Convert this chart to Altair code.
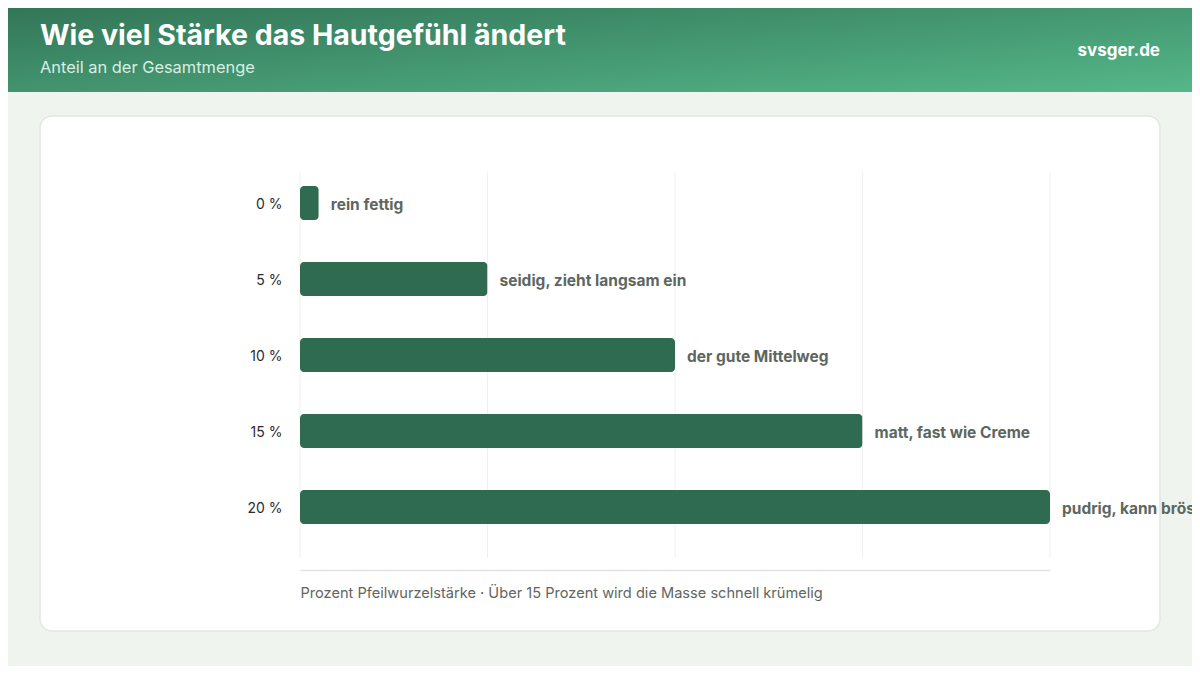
import altair as alt
import pandas as pd

# ---- data ----
cats = ["0 %", "5 %", "10 %", "15 %", "20 %"]
values = [0.5, 5, 10, 15, 20]
labels = [
    "rein fettig",
    "seidig, zieht langsam ein",
    "der gute Mittelweg",
    "matt, fast wie Creme",
    "pudrig, kann bröselig",
]
grid_ticks = [0, 5, 10, 15, 20]

title_text = "Wie viel Stärke das Hautgefühl ändert"
subtitle_text = "Anteil an der Gesamtmenge"
brand_text = "svsger.de"
x_title = "Prozent Pfeilwurzelstärke · Über 15 Prozent wird die Masse schnell krümelig"

df = pd.DataFrame({"cat": cats, "value": values, "label": labels})
grid_df = pd.DataFrame({"tick": grid_ticks})
one = pd.DataFrame({"k": [0]})

FONT = "Inter"
BAR = "#2e6b50"

xscale = alt.Scale(domain=[0, 20], nice=False, zero=True)
yscale = alt.Scale(domain=cats, range=[-7, 373], paddingInner=0, paddingOuter=0)

xaxis = alt.Axis(
    grid=False, labels=False, ticks=False, tickSize=0, domain=True,
    domainColor="#e3e3e3", domainWidth=1.5, offset=12,
    titleAnchor="start", titleAlign="left", titleFont=FONT,
    titleFontSize=14.6, titleFontWeight="normal", titleColor="#5f6661",
    titlePadding=15, zindex=1,
)
yaxis = alt.Axis(
    domain=False, ticks=False, tickSize=0, grid=False, labelPadding=18,
    labelFont=FONT, labelFontSize=14, labelColor="#2b2b2b", labelOffset=2, zindex=1,
)

header = alt.Chart(one).mark_rect(
    fill=alt.LinearGradient(
        gradient="linear",
        stops=[
            alt.GradientStop(color="#2f7054", offset=0),
            alt.GradientStop(color="#55b789", offset=1),
        ],
        x1=0, y1=0, x2=1, y2=1,
    )
).encode(x=alt.value(-300), x2=alt.value(900), y=alt.value(-180), y2=alt.value(-80))

card = alt.Chart(one).mark_rect(
    fill="white", stroke="#e1e7e1", strokeWidth=1.5, cornerRadius=12
).encode(x=alt.value(-260), x2=alt.value(860), y=alt.value(-56), y2=alt.value(459))

title = alt.Chart(one).mark_text(
    align="left", baseline="alphabetic", font=FONT, fontSize=28.5, fontWeight="bold", color="white"
).encode(x=alt.value(-260), y=alt.value(-127), text=alt.value(title_text))

subtitle = alt.Chart(one).mark_text(
    align="left", baseline="alphabetic", font=FONT, fontSize=16.4, color="#d9efe2"
).encode(x=alt.value(-260), y=alt.value(-99), text=alt.value(subtitle_text))

brand = alt.Chart(one).mark_text(
    align="right", baseline="alphabetic", font=FONT, fontSize=17, fontWeight="bold", color="white"
).encode(x=alt.value(860), y=alt.value(-116), text=alt.value(brand_text))

grid = alt.Chart(grid_df).mark_rule(color="#f0f0f0", strokeWidth=1).encode(
    x=alt.X("tick:Q", scale=xscale, axis=xaxis, title=x_title)
)

bars = alt.Chart(df).mark_bar(color=BAR, size=34, cornerRadius=4).encode(
    x=alt.X("value:Q", scale=xscale, title=x_title, axis=xaxis),
    y=alt.Y("cat:N", scale=yscale, sort=cats, title=None, axis=yaxis),
)

bar_labels = alt.Chart(df).mark_text(
    align="left", baseline="middle", dx=12, dy=2, font=FONT, fontSize=15.5,
    fontWeight="bold", color="#5c6761",
).encode(
    x=alt.X("value:Q", scale=xscale, title=x_title, axis=xaxis),
    y=alt.Y("cat:N", scale=yscale, sort=cats, title=None, axis=yaxis),
    text="label:N",
)

chart = alt.layer(
    header, card, title, subtitle, brand, grid, bars, bar_labels
).properties(
    width=750,
    height=386,
    autosize=alt.AutoSizeParams(type="none"),
    padding={"left": 292, "top": 164, "right": 142, "bottom": 108},
).configure(
    background="#eff5ee",
).configure_view(stroke=None)

chart.save("out.html", embed_options={"renderer": "svg", "actions": False})
